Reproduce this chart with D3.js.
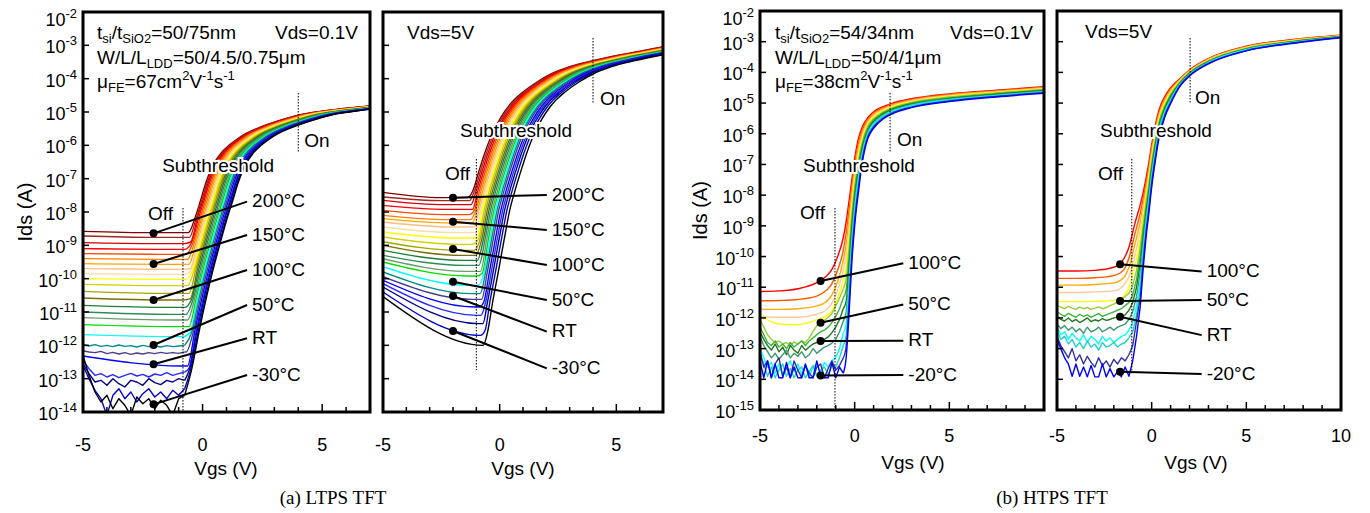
<!DOCTYPE html>
<meta charset="utf-8">
<style>
body{margin:0;background:#fff;}
svg text{font-family:"Liberation Sans",Arial,sans-serif;fill:#000;}
.caption{font-family:"Liberation Serif","Times New Roman",serif !important;}
</style>
<body>
<script src="https://cdn.jsdelivr.net/npm/d3@7/dist/d3.min.js"></script>
<script>
// ---------- LTPS (a) : 25 temperatures, 200C (dark red) ... -30C (black) ----------
var ltpsColors = ['#800000','#a0281e','#d20000','#ff0000','#ff4a00','#ff8000','#ffa500','#ffbe82','#ffdca8','#ffff00',
  '#d2d200','#a5a500','#7d6e00','#1e7d32','#2e8b57','#6b9a6b','#00dc00','#00ffff','#008b8b','#483d8b',
  '#0000ff','#2828ff','#00008b','#0000cd','#000000'];

// Vds = 0.1 V : shape of the hottest curve (log10 Ids vs Vgs), shifted per temperature
var linProfV = [-2.1,-1.8,-1.5,-1.2,-0.9,-0.6,-0.3,-0.08,0.13,0.4,0.76,1.1,1.39,1.8,2.29,3.28,4.03,5.5,7];
var linProfI = [-13.9,-12.7,-11.6,-10.6,-9.7,-8.9,-8.14,-7.64,-7.14,-6.64,-6.24,-6.0,-5.84,-5.65,-5.49,-5.24,-5.09,-4.93,-4.82];
var linShift = [0,0.05,0.1,0.15,0.21,0.27,0.33,0.39,0.45,0.51,0.57,0.63,0.69,0.75,0.81,0.87,0.93,0.99,1.05,1.11,1.17,1.22,1.26,1.31,1.35];
var linOffLeft = [-8.58,-8.72,-8.92,-9.1,-9.25,-9.4,-9.55,-9.7,-9.85,-10.0,-10.17,-10.38,-10.58,-10.8,-11.0,-11.17,-11.38,-11.68,-11.95,-12.15,-12.32,-12.45,-12.55,-12.6,-12.3];
var linOffKnee = [-8.62,-8.76,-8.95,-9.12,-9.27,-9.42,-9.57,-9.72,-9.87,-10.02,-10.21,-10.44,-10.64,-10.86,-11.07,-11.24,-11.44,-11.74,-12.02,-12.24,-12.62,-12.8,-13.05,-13.3,-13.5];
var linNoiseGrid = [-5,-4.75,-4.5,-4.25,-4,-3.75,-3.5,-3.25,-3,-2.75,-2.5,-2.25,-2,-1.75,-1.5,-1.25,-1,-0.75];
var linNoisyIdx = [18,19,21,22,23,24];
var linNoiseRows = [
  [-11.97,-12.02,-11.98,-12.03,-12.0,-12.04,-11.99,-12.03,-12.01,-12.05,-12.0,-12.04,-12.02,-12.05,-12.01,-12.04,-12.02,-12.0],
  [-12.16,-12.2,-12.22,-12.18,-12.25,-12.21,-12.26,-12.22,-12.27,-12.23,-12.26,-12.22,-12.25,-12.21,-12.24,-12.22,-12.24,-12.2],
  [-12.45,-12.7,-12.9,-12.85,-12.95,-12.88,-12.97,-12.9,-12.84,-12.92,-12.87,-12.95,-12.86,-12.9,-12.82,-12.9,-12.85,-12.8],
  [-12.55,-12.85,-13.1,-13.05,-13.2,-13.0,-13.15,-13.25,-13.05,-13.1,-13.2,-13.0,-13.12,-13.18,-13.05,-13.1,-13.0,-13.05],
  [-12.6,-13.0,-13.35,-13.6,-14.1,-13.5,-13.3,-13.6,-13.4,-13.7,-13.45,-13.3,-13.55,-13.4,-13.6,-13.35,-13.5,-13.3],
  [-12.3,-12.9,-13.4,-13.7,-13.5,-13.9,-13.6,-13.8,-14.1,-13.55,-13.75,-13.6,-13.9,-13.65,-13.8,-14.1,-13.6,-13.5]
];

// Vds = 5 V
var satProfV = [-2.5,-2.3,-2.1,-1.87,-1.6,-1.37,-1.14,-0.88,-0.65,-0.43,-0.1,0.2,0.6,1.0,1.6,2.2,3.0,4.0,5.5,7];
var satProfI = [-12.4,-11.54,-10.7,-9.84,-8.8,-7.95,-7.35,-6.75,-6.25,-5.84,-5.35,-5.0,-4.65,-4.4,-4.1,-3.86,-3.64,-3.46,-3.24,-3.04];
var satShift = [0,0.07,0.14,0.21,0.28,0.35,0.42,0.49,0.56,0.63,0.7,0.77,0.84,0.91,0.98,1.05,1.12,1.19,1.26,1.33,1.42,1.5,1.58,1.68,1.8];
var satOffLeft = [-7.41,-7.55,-7.65,-7.8,-7.95,-8.1,-8.2,-8.3,-8.45,-8.6,-8.75,-8.89,-9.0,-9.15,-9.3,-9.4,-9.5,-9.64,-9.8,-9.94,-10.05,-10.15,-10.25,-10.4,-10.54];
var satOffKnee = [-7.57,-7.66,-7.78,-7.92,-8.08,-8.23,-8.33,-8.45,-8.62,-8.78,-8.97,-9.15,-9.3,-9.45,-9.6,-9.78,-9.92,-10.2,-10.45,-10.62,-10.85,-11.1,-11.35,-11.7,-12.0];

// ---------- HTPS (b) : 13 temperatures, 100C (red) ... -20C (blue) ----------
var htpsColors = ['#ff0000','#ff5a00','#ffaa00','#ffc8a0','#ffff00','#9acd32','#3cb43c','#1e781e','#3c9a70','#00ffff','#20d0d0','#3030a0','#0000ff'];
var htpsOffGrid = [-5,-4,-3,-2,-1.5,-1.2,-0.9,-0.6];
var htpsNoiseGrid = [-5,-4.8,-4.6,-4.4,-4.2,-4,-3.8,-3.6,-3.4,-3.2,-3,-2.8,-2.6,-2.4,-2.2,-2,-1.8,-1.6,-1.4,-1.2,-1,-0.8,-0.6];
var htpsRiseGrid = [-0.45,-0.3,-0.15,0,0.2,0.4,0.7,1,1.5,2,3,5,7.5,10];

var htpsLinOff = [
  [-11.14,-11.12,-11.05,-10.85,-10.64,-10.42,-10.0,-9.38],
  [-11.44,-11.43,-11.4,-11.29,-11.1,-10.88,-10.44,-9.8],
  [-11.72,-11.72,-11.7,-11.61,-11.47,-11.25,-10.82,-10.12],
  [-11.96,-11.98,-11.98,-11.88,-11.74,-11.52,-11.08,-10.45],
  [-11.9,-12.2,-12.22,-12.06,-11.94,-11.76,-11.36,-10.75],
  [-12.05,-12.3,-12.55,-12.7,-12.8,-12.75,-12.85,-12.8,-12.9,-12.78,-12.85,-12.75,-12.8,-12.65,-12.45,-12.25,-12.15,-12.08,-11.98,-11.85,-11.62,-11.35,-11.05],
  [-12.3,-12.55,-12.8,-12.9,-12.75,-12.95,-12.85,-13.0,-12.8,-12.95,-12.85,-12.75,-12.9,-12.75,-12.65,-12.55,-12.45,-12.4,-12.3,-12.15,-11.95,-11.7,-11.35],
  [-12.45,-12.7,-12.9,-13.05,-12.85,-13.1,-12.95,-13.2,-12.9,-13.05,-13.15,-12.9,-13.05,-12.95,-12.85,-12.8,-12.75,-12.7,-12.62,-12.48,-12.3,-12.05,-11.7],
  [-12.6,-12.9,-13.1,-13.3,-13.15,-13.35,-13.2,-13.05,-13.3,-13.15,-13.25,-13.1,-13.3,-13.2,-13.0,-13.15,-13.05,-12.95,-12.9,-12.82,-12.7,-12.45,-12.1],
  [-13.0,-13.3,-13.6,-13.45,-13.8,-13.5,-13.9,-13.6,-13.4,-13.75,-13.5,-13.85,-13.55,-13.95,-13.6,-13.5,-13.8,-13.45,-13.6,-13.4,-13.3,-13.0,-12.5],
  [-13.2,-13.5,-13.9,-13.6,-13.95,-13.7,-13.5,-13.9,-13.65,-13.95,-13.7,-13.6,-13.95,-13.75,-13.55,-13.9,-13.7,-13.6,-13.85,-13.55,-13.6,-13.3,-12.9],
  [-13.1,-13.6,-13.4,-13.95,-13.5,-13.3,-13.9,-13.6,-13.95,-13.4,-13.7,-13.95,-13.55,-13.8,-13.95,-13.6,-13.5,-13.95,-13.65,-13.4,-13.7,-13.55,-13.3],
  [-13.4,-13.95,-13.4,-13.95,-13.5,-13.95,-13.95,-13.45,-13.95,-13.6,-13.95,-13.95,-13.5,-13.95,-13.95,-13.4,-13.9,-13.95,-13.95,-13.45,-13.95,-13.6,-13.8]
];
var htpsLinRise = [
  [-8.86,-8.2,-7.5,-6.8,-6.15,-5.78,-5.47,-5.28,-5.12,-5.0,-4.86,-4.7,-4.58,-4.47],
  [-9.23,-8.51,-7.73,-6.98,-6.3,-5.88,-5.53,-5.33,-5.15,-5.03,-4.88,-4.72,-4.6,-4.49],
  [-9.6,-8.82,-7.95,-7.17,-6.44,-5.98,-5.58,-5.37,-5.19,-5.06,-4.91,-4.74,-4.62,-4.5],
  [-9.97,-9.13,-8.18,-7.35,-6.59,-6.07,-5.64,-5.42,-5.22,-5.09,-4.93,-4.76,-4.64,-4.52],
  [-10.34,-9.43,-8.4,-7.53,-6.73,-6.17,-5.7,-5.46,-5.25,-5.12,-4.96,-4.78,-4.65,-4.54],
  [-10.71,-9.74,-8.63,-7.72,-6.88,-6.27,-5.75,-5.51,-5.29,-5.15,-4.98,-4.8,-4.67,-4.56],
  [-11.08,-10.05,-8.85,-7.9,-7.03,-6.37,-5.81,-5.55,-5.32,-5.18,-5.0,-4.83,-4.69,-4.58],
  [-11.45,-10.36,-9.08,-8.08,-7.17,-6.46,-5.87,-5.6,-5.35,-5.2,-5.03,-4.85,-4.71,-4.59],
  [-11.82,-10.67,-9.3,-8.27,-7.32,-6.56,-5.92,-5.64,-5.39,-5.23,-5.05,-4.87,-4.73,-4.61],
  [-12.19,-10.98,-9.53,-8.45,-7.46,-6.66,-5.98,-5.69,-5.42,-5.26,-5.08,-4.89,-4.75,-4.63],
  [-12.56,-11.28,-9.75,-8.63,-7.61,-6.76,-6.04,-5.73,-5.45,-5.29,-5.1,-4.91,-4.76,-4.65],
  [-12.93,-11.59,-9.98,-8.82,-7.75,-6.85,-6.09,-5.78,-5.49,-5.32,-5.13,-4.93,-4.78,-4.66],
  [-13.3,-11.9,-10.2,-9.0,-7.9,-6.95,-6.15,-5.82,-5.52,-5.35,-5.15,-4.95,-4.8,-4.68]
];

var htpsSatOff = [
  [-10.47,-10.47,-10.45,-10.35,-10.1,-9.7,-8.95,-8.3],
  [-10.71,-10.71,-10.69,-10.62,-10.45,-10.05,-9.3,-8.58],
  [-10.93,-10.93,-10.91,-10.86,-10.7,-10.35,-9.64,-8.85],
  [-11.17,-11.17,-11.15,-11.12,-10.95,-10.65,-9.99,-9.13],
  [-11.47,-11.47,-11.46,-11.43,-11.3,-11.0,-10.33,-9.4],
  [-11.6,-11.65,-11.7,-11.62,-11.68,-11.72,-11.65,-11.7,-11.66,-11.72,-11.68,-11.64,-11.7,-11.66,-11.6,-11.55,-11.48,-11.4,-11.3,-11.2,-10.95,-10.45,-9.68],
  [-11.8,-11.88,-11.95,-11.85,-11.92,-11.98,-11.88,-11.95,-11.9,-11.98,-11.92,-11.86,-11.95,-11.9,-11.85,-11.8,-11.75,-11.7,-11.6,-11.5,-11.25,-10.75,-9.95],
  [-11.95,-12.05,-12.1,-12.0,-12.12,-12.05,-12.15,-12.08,-12.0,-12.12,-12.06,-12.1,-12.02,-12.08,-12.05,-12.0,-11.98,-11.95,-11.9,-11.75,-11.5,-11.0,-10.23],
  [-12.2,-12.35,-12.25,-12.4,-12.3,-12.45,-12.35,-12.5,-12.3,-12.45,-12.4,-12.3,-12.45,-12.38,-12.3,-12.4,-12.3,-12.25,-12.2,-12.05,-11.8,-11.3,-10.5],
  [-12.3,-12.55,-12.45,-12.7,-12.5,-12.65,-12.75,-12.55,-12.8,-12.6,-12.7,-12.85,-12.6,-12.75,-12.65,-12.8,-12.7,-12.6,-12.55,-12.4,-12.15,-11.6,-10.78],
  [-12.4,-12.7,-12.6,-12.85,-12.7,-12.95,-12.8,-13.0,-12.75,-12.95,-12.85,-13.05,-12.8,-12.95,-12.9,-12.8,-12.95,-12.85,-12.8,-12.65,-12.45,-11.9,-11.05],
  [-12.6,-12.9,-13.1,-13.3,-13.0,-13.4,-13.2,-13.5,-13.25,-13.45,-13.6,-13.3,-13.55,-13.4,-13.6,-13.35,-13.5,-13.3,-13.4,-13.2,-12.9,-12.1,-11.33],
  [-12.7,-13.0,-13.3,-13.5,-13.9,-13.5,-13.9,-13.6,-13.92,-13.55,-13.92,-13.92,-13.5,-13.92,-13.65,-13.92,-13.75,-13.92,-13.6,-13.9,-13.4,-12.6,-11.6]
];
var htpsSatRise = [
  [-7.92,-7.45,-6.95,-6.35,-5.7,-5.2,-4.78,-4.5,-4.2,-3.92,-3.55,-3.15,-2.93,-2.79],
  [-8.13,-7.61,-7.09,-6.47,-5.8,-5.28,-4.84,-4.54,-4.22,-3.94,-3.56,-3.16,-2.94,-2.8],
  [-8.33,-7.78,-7.23,-6.58,-5.89,-5.35,-4.89,-4.59,-4.24,-3.95,-3.58,-3.18,-2.95,-2.8],
  [-8.54,-7.94,-7.36,-6.7,-5.99,-5.43,-4.95,-4.63,-4.26,-3.97,-3.59,-3.19,-2.96,-2.81],
  [-8.75,-8.1,-7.5,-6.82,-6.08,-5.5,-5.0,-4.67,-4.28,-3.99,-3.61,-3.2,-2.97,-2.82],
  [-8.95,-8.26,-7.64,-6.93,-6.18,-5.58,-5.06,-4.72,-4.3,-4.0,-3.62,-3.21,-2.98,-2.82],
  [-9.16,-8.43,-7.78,-7.05,-6.28,-5.65,-5.12,-4.76,-4.33,-4.02,-3.64,-3.23,-2.99,-2.83],
  [-9.37,-8.59,-7.91,-7.17,-6.37,-5.73,-5.17,-4.8,-4.35,-4.04,-3.65,-3.24,-3.0,-2.84],
  [-9.57,-8.75,-8.05,-7.28,-6.47,-5.8,-5.23,-4.85,-4.37,-4.05,-3.66,-3.25,-3.01,-2.84],
  [-9.78,-8.91,-8.19,-7.4,-6.56,-5.88,-5.28,-4.89,-4.39,-4.07,-3.68,-3.26,-3.02,-2.85],
  [-9.99,-9.08,-8.33,-7.52,-6.66,-5.95,-5.34,-4.93,-4.41,-4.09,-3.69,-3.28,-3.03,-2.86],
  [-10.19,-9.24,-8.46,-7.63,-6.75,-6.03,-5.39,-4.98,-4.43,-4.1,-3.71,-3.29,-3.04,-2.86],
  [-10.4,-9.4,-8.6,-7.75,-6.85,-6.1,-5.45,-5.02,-4.45,-4.12,-3.72,-3.3,-3.05,-2.87]
];

// ---------- axis ticks ----------
var ltpsYExp = [-2,-3,-4,-5,-6,-7,-8,-9,-10,-11,-12,-13,-14];
var htpsYExp = [-2,-3,-4,-5,-6,-7,-8,-9,-10,-11,-12,-13,-14,-15];
var ltpsXLabels = [-5,0,5];
var htpsLinXLabels = [-5,0,5];
var htpsSatXLabels = [-5,0,5,10];

// ---------- temperature call-outs: log Ids at the dot and at the line end ----------
var ltpsTempLabels = ['200°C','150°C','100°C','50°C','RT','-30°C'];
var ltpsLinDots = [-8.64,-9.56,-10.64,-11.99,-12.57,-13.77];
var ltpsLinEnds = [-7.69,-8.69,-9.74,-10.79,-11.79,-12.89];
var ltpsSatDots = [-7.57,-8.29,-9.11,-10.09,-10.52,-11.57];
var ltpsSatEnds = [-7.49,-8.54,-9.59,-10.64,-11.59,-12.69];
var htpsTempLabels = ['100°C','50°C','RT','-20°C'];
var htpsLinDots = [-10.8,-12.16,-12.75,-13.88];
var htpsLinEnds = [-10.22,-11.56,-12.74,-13.86];
var htpsSatDots = [-10.25,-11.45,-11.96,-13.75];
var htpsSatEnds = [-10.49,-11.42,-12.56,-13.83];

// ---------- build curves: {noise: jagged off-state points, smooth: the rest} ----------
function ltpsCurves(profV, profI, shift, offLeft, offKnee, noisyIdx, noiseRows, noiseGrid){
  return shift.map(function(s, i){
    var noise = [], pts, floor, n = noisyIdx.indexOf(i);
    if (n >= 0) {
      noise = noiseGrid.map(function(v, j){ return [v, noiseRows[n][j]]; });
      pts = [noise[noise.length - 1]];
      floor = noiseRows[n][noiseRows[n].length - 1];
    } else {
      pts = [[-5, offLeft[i]]];
      floor = offKnee[i];
    }
    var last = pts[0][0];
    profV.forEach(function(v, j){
      if (v + s > last + 0.05) pts.push([v + s, Math.max(profI[j], floor)]);
    });
    return {noise: noise, smooth: pts};
  });
}
function htpsCurves(offRows, riseRows){
  return offRows.map(function(row, i){
    var noisy = row.length !== htpsOffGrid.length;
    var grid = noisy ? htpsNoiseGrid : htpsOffGrid;
    var off = grid.map(function(v, j){ return [v, row[j]]; });
    var rise = htpsRiseGrid.map(function(v, j){ return [v, riseRows[i][j]]; });
    return noisy ? {noise: off, smooth: [off[off.length - 1]].concat(rise)}
                 : {noise: [], smooth: off.concat(rise)};
  });
}

var svg = d3.select('body').append('svg').attr('width', 1370).attr('height', 513);

function rich(sel, parts, small){
  var shift = 0;
  parts.forEach(function(p){
    var s = p[1] === 'sub' ? 4 : p[1] === 'sup' ? -8 : 0;
    sel.append('tspan').attr('dy', s - shift).attr('font-size', s ? small : null).text(p[0]);
    shift = s;
  });
}

function drawPanel(p){
  var x = d3.scaleLinear().domain(p.xDomain).range([p.x0, p.x1]);
  var y = d3.scaleLog().domain([Math.pow(10, p.yExp[p.yExp.length - 1]), 1e-2]).range([p.y1, p.y0]);
  var ly = function(e){ return y(Math.pow(10, e)); };
  var g = svg.append('g');

  g.append('clipPath').attr('id', 'clip' + p.id).append('rect')
    .attr('x', p.x0).attr('y', p.y0).attr('width', p.x1 - p.x0).attr('height', p.y1 - p.y0);

  var smooth = d3.line().x(function(d){ return x(d[0]); }).y(function(d){ return ly(d[1]); })
    .curve(d3.curveMonotoneX);
  var jagged = d3.line().x(function(d){ return x(d[0]); }).y(function(d){ return ly(d[1]); });
  var cg = g.append('g').attr('clip-path', 'url(#clip' + p.id + ')');
  p.curves.forEach(function(c, i){
    if (c.noise.length) cg.append('path').attr('d', jagged(c.noise)).attr('fill', 'none')
      .attr('stroke', p.colors[i]).attr('stroke-width', 1.4).attr('stroke-linejoin', 'round');
    cg.append('path').attr('d', smooth(c.smooth)).attr('fill', 'none')
      .attr('stroke', p.colors[i]).attr('stroke-width', 1.4);
  });

  // dotted markers for Off / On
  [p.offMark, p.onMark].forEach(function(m){
    g.append('line').attr('x1', x(m[0])).attr('x2', x(m[0]))
      .attr('y1', ly(m[1])).attr('y2', ly(m[2]))
      .attr('stroke', '#000').attr('stroke-width', 1).attr('stroke-dasharray', '1.5,1.5');
  });

  // temperature call-outs
  p.labels.forEach(function(t, i){
    g.append('line').attr('x1', x(p.dotV)).attr('y1', ly(p.dots[i]))
      .attr('x2', x(p.endV)).attr('y2', ly(p.ends[i]))
      .attr('stroke', '#000').attr('stroke-width', 2);
    g.append('circle').attr('cx', x(p.dotV)).attr('cy', ly(p.dots[i])).attr('r', 4).attr('fill', '#000');
    g.append('text').attr('x', x(p.endV) + 5).attr('y', ly(p.ends[i]) - 1)
      .attr('dominant-baseline', 'central').attr('font-size', 19).text(t);
  });

  // region words
  p.words.forEach(function(w){
    g.append('text').attr('x', x(w[1])).attr('y', ly(w[2]))
      .attr('dominant-baseline', 'central').attr('font-size', 19)
      .attr('stroke', '#fff').attr('stroke-width', 4).attr('paint-order', 'stroke')
      .text(w[0]);
  });

  // header text
  p.header.forEach(function(h){
    var t = g.append('text').attr('x', h.right ? p.x1 - h.dx : p.x0 + h.dx).attr('y', p.y0 + h.dy)
      .attr('font-size', 19).attr('text-anchor', h.right ? 'end' : 'start');
    rich(t, h.parts, 13);
  });

  // ticks
  d3.range(p.xDomain[0] + 1, p.xDomain[1]).forEach(function(v){
    var len = v % 5 === 0 ? 8 : 5;
    g.append('line').attr('x1', x(v)).attr('x2', x(v)).attr('y1', p.y1).attr('y2', p.y1 - len)
      .attr('stroke', '#000').attr('stroke-width', 1.5);
  });
  p.yExp.forEach(function(e){
    g.append('line').attr('x1', p.x0).attr('x2', p.x0 + 6).attr('y1', ly(e)).attr('y2', ly(e))
      .attr('stroke', '#000').attr('stroke-width', 1.5);
  });

  // frame
  g.append('rect').attr('x', p.x0).attr('y', p.y0).attr('width', p.x1 - p.x0).attr('height', p.y1 - p.y0)
    .attr('fill', 'none').attr('stroke', '#000').attr('stroke-width', 3);

  // tick labels
  p.xLabels.forEach(function(v){
    g.append('text').attr('x', x(v)).attr('y', p.xLabelY).attr('dominant-baseline', 'central')
      .attr('text-anchor', 'middle').attr('font-size', 18).text(v);
  });
  if (p.yLabels) {
    p.yExp.forEach(function(e, i){
      var t = g.append('text').attr('x', p.x0 - 6).attr('y', ly(e) + (i === 0 ? 14 : 8))
        .attr('text-anchor', 'end').attr('font-size', 18);
      rich(t, [['10'], [String(e), 'sup']], 13);
    });
    g.append('text').attr('transform', 'translate(' + p.yTitleX + ',' + ((p.y0 + p.y1) / 2) + ') rotate(-90)')
      .attr('text-anchor', 'middle').attr('dominant-baseline', 'central').attr('font-size', 20).text('Ids (A)');
  }
  g.append('text').attr('x', p.xTitleX).attr('y', p.xTitleY).attr('text-anchor', 'middle')
    .attr('dominant-baseline', 'central').attr('font-size', 19).text('Vgs (V)');
}

var ltpsLinCurves = ltpsCurves(linProfV, linProfI, linShift, linOffLeft, linOffKnee, linNoisyIdx, linNoiseRows, linNoiseGrid);
var ltpsSatCurves = ltpsCurves(satProfV, satProfI, satShift, satOffLeft, satOffKnee, [], [], []);

drawPanel({id: 1, x0: 83, x1: 370, y0: 12, y1: 412, xDomain: [-5, 7], yExp: ltpsYExp,
  curves: ltpsLinCurves, colors: ltpsColors,
  labels: ltpsTempLabels, dots: ltpsLinDots, ends: ltpsLinEnds, dotV: -2.05, endV: 1.86,
  offMark: [-0.82, -7.88, -14], onMark: [4.0, -4.43, -6.2],
  words: [['Subthreshold', -1.69, -6.59], ['Off', -2.28, -8.03], ['On', 4.25, -5.84]],
  header: [
    {dx: 14, dy: 27, parts: [['t'], ['si', 'sub'], ['/t'], ['SiO2', 'sub'], ['=50/75nm']]},
    {dx: 12, dy: 27, right: true, parts: [['Vds=0.1V']]},
    {dx: 14, dy: 52, parts: [['W/L/L'], ['LDD', 'sub'], ['=50/4.5/0.75μm']]},
    {dx: 14, dy: 76, parts: [['μ'], ['FE', 'sub'], ['=67cm'], ['2', 'sup'], ['V'], ['-1', 'sup'], ['s'], ['-1', 'sup']]}
  ],
  xLabels: ltpsXLabels, xLabelY: 445, yLabels: true, yTitleX: 25, xTitleX: 226, xTitleY: 468});

drawPanel({id: 2, x0: 383, x1: 663, y0: 12, y1: 412, xDomain: [-5, 7], yExp: ltpsYExp,
  curves: ltpsSatCurves, colors: ltpsColors,
  labels: ltpsTempLabels, dots: ltpsSatDots, ends: ltpsSatEnds, dotV: -2.0, endV: 2.02,
  offMark: [-1.0, -6.41, -12.74], onMark: [4.0, -2.78, -4.73],
  words: [['Subthreshold', -1.7, -5.54], ['Off', -2.34, -6.83], ['On', 4.3, -4.58]],
  header: [{dx: 24, dy: 27, parts: [['Vds=5V']]}],
  xLabels: ltpsXLabels, xLabelY: 445, yLabels: false, xTitleX: 523, xTitleY: 468});

drawPanel({id: 3, x0: 760, x1: 1044, y0: 11, y1: 410, xDomain: [-5, 10], yExp: htpsYExp,
  curves: htpsCurves(htpsLinOff, htpsLinRise), colors: htpsColors,
  labels: htpsTempLabels, dots: htpsLinDots, ends: htpsLinEnds, dotV: -1.8, endV: 2.57,
  offMark: [-1.04, -8.42, -15], onMark: [1.87, -4.67, -6.59],
  words: [['Subthreshold', -2.73, -7.02], ['Off', -2.89, -8.55], ['On', 2.24, -6.2]],
  header: [
    {dx: 15, dy: 28, parts: [['t'], ['si', 'sub'], ['/t'], ['SiO2', 'sub'], ['=54/34nm']]},
    {dx: 11, dy: 28, right: true, parts: [['Vds=0.1V']]},
    {dx: 15, dy: 53, parts: [['W/L/L'], ['LDD', 'sub'], ['=50/4/1μm']]},
    {dx: 15, dy: 77, parts: [['μ'], ['FE', 'sub'], ['=38cm'], ['2', 'sup'], ['V'], ['-1', 'sup'], ['s'], ['-1', 'sup']]}
  ],
  xLabels: htpsLinXLabels, xLabelY: 436, yLabels: true, yTitleX: 700, xTitleX: 913, xTitleY: 462});

drawPanel({id: 4, x0: 1057, x1: 1341, y0: 11, y1: 410, xDomain: [-5, 10], yExp: htpsYExp,
  curves: htpsCurves(htpsSatOff, htpsSatRise), colors: htpsColors,
  labels: htpsTempLabels, dots: htpsSatDots, ends: htpsSatEnds, dotV: -1.67, endV: 2.64,
  offMark: [-1.05, -6.82, -13.8], onMark: [2.03, -2.88, -5.0],
  words: [['Subthreshold', -2.73, -5.88], ['Off', -2.83, -7.28], ['On', 2.29, -4.83]],
  header: [{dx: 28, dy: 27, parts: [['Vds=5V']]}],
  xLabels: htpsSatXLabels, xLabelY: 436, yLabels: false, xTitleX: 1196, xTitleY: 462});

svg.append('text').attr('class', 'caption').attr('x', 333).attr('y', 497).attr('text-anchor', 'middle')
  .attr('dominant-baseline', 'central').attr('font-size', 19).text('(a) LTPS TFT');
svg.append('text').attr('class', 'caption').attr('x', 1052).attr('y', 497).attr('text-anchor', 'middle')
  .attr('dominant-baseline', 'central').attr('font-size', 19).text('(b) HTPS TFT');
</script>
